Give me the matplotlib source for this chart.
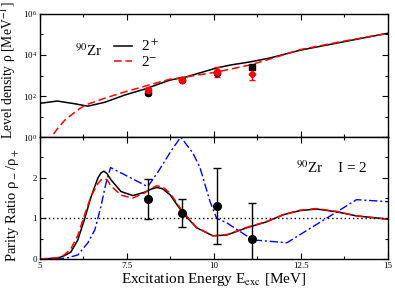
import numpy as np
import matplotlib
matplotlib.use('Agg')
import matplotlib.pyplot as plt
from matplotlib.ticker import MultipleLocator, LogLocator, NullFormatter, LogFormatterMathtext

plt.rcParams['font.family'] = ['Liberation Serif', 'DejaVu Serif']
plt.rcParams['mathtext.fontset'] = 'stix'

# level density (top panel)
E_pos = [5.0, 5.5, 6.0, 6.38, 6.87, 7.44, 8.0, 8.74, 9.2, 10.08, 10.5, 11.03, 11.6, 12.5, 13.75, 15.0]
rho_pos = [44, 57, 42, 32, 50, 112, 215, 600, 850, 2340, 3300, 4570, 7080, 17400, 44700, 115000]
E_neg = [5.2, 5.33, 5.5, 5.72, 6.09, 6.3, 6.87, 7.44, 8.16, 8.74, 9.2, 10.08, 11.03, 11.6, 12.5, 13.75, 15.0]
rho_neg = [0.5, 1.0, 2.5, 6.8, 21, 36, 79, 158, 355, 660, 850, 1480, 3240, 6300, 18600, 47900, 115000]

# data points, level density
E_exp = [8.1, 9.07, 10.08, 11.1]
rho_exp_pos = [141, 600, 1300, 2570]
rho_exp_pos_err = [25, 60, 150, 300]
rho_exp_neg = [195, 630, 1480, 1175]
rho_exp_neg_lo = [40, 90, 600, 575]
rho_exp_neg_hi = [50, 100, 1090, 1165]

# parity ratio (bottom panel)
E_r = [5.0, 5.5, 5.7, 5.89, 6.09, 6.29, 6.47, 6.67, 6.76, 6.84, 6.93, 7.04, 7.33, 7.67, 8.0, 8.2,
       8.36, 8.52, 8.74, 9.1, 9.5, 9.97, 10.37, 10.95, 11.5, 12.0, 12.47, 12.95, 13.53, 14.1, 15.0]
ratio_black = [0.0, 0.02, 0.08, 0.17, 0.47, 1.0, 1.53, 2.0, 2.12, 2.16, 2.1, 1.95, 1.66, 1.56, 1.64, 1.72,
               1.76, 1.73, 1.58, 1.14, 0.77, 0.57, 0.59, 0.77, 0.91, 1.09, 1.19, 1.23, 1.16, 1.06, 0.98]
ratio_red = [0.0, 0.03, 0.1, 0.25, 0.58, 1.1, 1.55, 1.86, 1.95, 1.98, 1.95, 1.8, 1.57, 1.5, 1.62, 1.74,
             1.8, 1.78, 1.62, 1.17, 0.78, 0.57, 0.6, 0.78, 0.92, 1.09, 1.2, 1.24, 1.17, 1.06, 0.98]
E_blue = [5.0, 5.5, 5.8, 6.09, 6.38, 6.58, 6.75, 6.9, 7.03, 8.1, 8.4, 8.8, 9.05, 9.4, 9.6, 9.89,
          10.08, 10.37, 11.12, 12.1, 14.1, 15.0]
ratio_blue = [0.0, 0.0, 0.03, 0.1, 0.4, 0.72, 1.28, 1.87, 2.25, 1.78, 2.15, 2.7, 3.0, 2.6, 2.25, 1.41,
              1.0, 0.89, 0.47, 0.4, 1.46, 1.41]

ratio_exp = [1.48, 1.14, 1.31, 0.49]
ratio_lo = [0.5, 0.35, 0.94, 0.9]
ratio_hi = [0.49, 0.34, 0.94, 0.89]

fig = plt.figure(figsize=(3.95, 2.91), dpi=100)
ax1 = fig.add_axes([0.101, 0.529, 0.881, 0.423])
ax2 = fig.add_axes([0.101, 0.110, 0.881, 0.419])

# top panel
ax1.plot(E_pos, rho_pos, color='black', lw=1.1, label='2$^+$')
ax1.plot(E_neg, rho_neg, color='red', lw=1.1, ls=(0, (5, 2.5)), label='2$^{-}$')
ax1.errorbar(E_exp[:3], rho_exp_pos[:3], yerr=rho_exp_pos_err[:3], fmt='o', color='black', ms=4.5, capsize=2.5, lw=1)
ax1.errorbar(E_exp[3:], rho_exp_pos[3:], yerr=rho_exp_pos_err[3:], fmt='s', color='black', ms=4, capsize=2.5, lw=1)
ax1.errorbar(E_exp[:3], rho_exp_neg[:3],
             yerr=[rho_exp_neg_lo[:3], rho_exp_neg_hi[:3]], fmt='o', color='red', ms=4.5, capsize=2.5, lw=1)
ax1.errorbar(E_exp[3:], rho_exp_neg[3:],
             yerr=[rho_exp_neg_lo[3:], rho_exp_neg_hi[3:]], fmt='D', color='red', ms=3.5, capsize=2.5, lw=1)
ax1.set_yscale('log')
ax1.set_xlim(5, 15)
ax1.set_ylim(1, 1e6)
ax1.yaxis.set_major_locator(LogLocator(base=100, numticks=10))
ax1.yaxis.set_minor_locator(LogLocator(base=10, numticks=10))
ax1.yaxis.set_major_formatter(LogFormatterMathtext())
ax1.yaxis.set_minor_formatter(NullFormatter())
ax1.xaxis.set_major_locator(MultipleLocator(2.5))
ax1.xaxis.set_minor_locator(MultipleLocator(1.25))
ax1.tick_params(axis='x', labelbottom=False)
ax1.set_ylabel('Level density ρ [MeV$^{-1}$]', fontsize=9.8)
ax1.yaxis.set_label_coords(-0.062, 0.54)
ax1.text(0.10, 0.70, '$^{90}$Zr', transform=ax1.transAxes, fontsize=11, va='center')
ax1.legend(loc='upper left', bbox_to_anchor=(0.19, 0.86), frameon=False, fontsize=11,
           handlelength=1.2, handletextpad=0.6, labelspacing=0.05, borderpad=0)

# bottom panel
ax2.plot(E_blue, ratio_blue, color='blue', lw=1, ls=(0, (6, 2, 1.5, 2)))
ax2.plot(E_r, ratio_black, color='black', lw=1.1)
ax2.plot(E_r, ratio_red, color='red', lw=1.1, ls=(0, (5, 2.5)))
ax2.axhline(1.0, color='black', lw=1, ls=(0, (1, 2)))
ax2.errorbar(E_exp, ratio_exp, yerr=[ratio_lo, ratio_hi], fmt='o', color='black', ms=5.5, capsize=3, lw=1)
ax2.set_xlim(5, 15)
ax2.set_ylim(0, 3)
ax2.xaxis.set_major_locator(MultipleLocator(2.5))
ax2.xaxis.set_minor_locator(MultipleLocator(1.25))
ax2.yaxis.set_major_locator(MultipleLocator(1))
ax2.yaxis.set_minor_locator(MultipleLocator(0.5))
ax2.set_yticks([0, 1, 2, 3])
ax2.set_yticklabels(['0', '1', '2', ''])
ax2.set_xticks([5, 7.5, 10, 12.5, 15])
ax2.set_xticklabels(['5', '7.5', '10', '12.5', '15'])
ax2.set_ylabel('Parity Ratio ρ$_-$/ρ$_+$', fontsize=10.5)
ax2.yaxis.set_label_coords(-0.055, 0.44)
ax2.set_xlabel('Excitation Energy E$_{\\rm exc}$ [MeV]', fontsize=11, labelpad=1)
ax2.text(0.735, 0.75, '$^{90}$Zr    I = 2', transform=ax2.transAxes, fontsize=11, va='center')

for ax in (ax1, ax2):
    ax.tick_params(which='both', direction='in', top=True, right=True, labelsize=6.5, pad=2)
    ax.tick_params(which='major', length=4, width=0.8)
    ax.tick_params(which='minor', length=2.5, width=0.8)
    for s in ax.spines.values():
        s.set_linewidth(1.0)

fig.savefig('out.png', dpi=100)
